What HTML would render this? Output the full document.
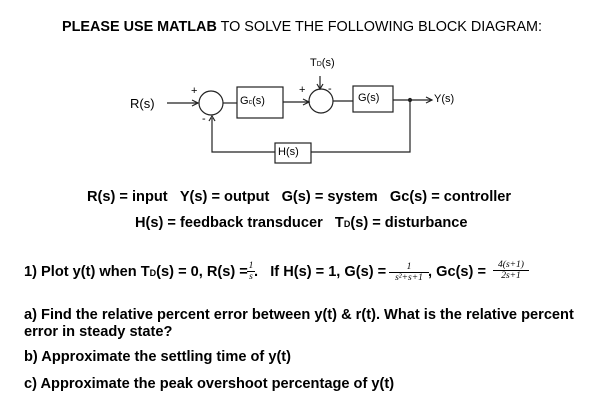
<!DOCTYPE html>
<html><head><style>
body{margin:0;width:602px;height:418px;background:#fff;position:relative;overflow:hidden;font-family:"Liberation Sans",Arial,sans-serif;color:#000}
.t{position:absolute;white-space:nowrap;font-weight:bold;font-size:14.6px;line-height:16px}
.f{position:absolute;font-family:"Liberation Serif",serif;font-style:italic;font-size:9.5px;text-align:center;line-height:10px}
.hw{font-family:"Liberation Sans",sans-serif;font-size:11px;position:absolute;white-space:nowrap}
</style></head><body>
<div class="t" style="left:62px;top:19px;font-size:14.4px;font-weight:normal"><b>PLEASE USE MATLAB</b> TO SOLVE THE FOLLOWING BLOCK DIAGRAM:</div>

<svg width="602" height="418" style="position:absolute;left:0;top:0" fill="none" stroke="#222" stroke-width="1.2">
<line x1="167" y1="103" x2="198" y2="103"/><polyline points="192,100 198,103 192,106"/>
<circle cx="211" cy="103" r="12"/>
<line x1="223" y1="103" x2="237" y2="103"/>
<rect x="237" y="87" width="46" height="31"/>
<line x1="283" y1="102" x2="309" y2="102"/><polyline points="303,99 309,102 303,105"/>
<circle cx="321" cy="101" r="12"/>
<line x1="320" y1="76" x2="320" y2="89"/><polyline points="317,84 320,89 323,84"/>
<line x1="333" y1="101" x2="353" y2="101"/>
<rect x="353" y="86" width="40" height="26"/>
<line x1="393" y1="100" x2="432" y2="100"/><polyline points="426,97 432,100 426,103"/>
<circle cx="410" cy="100" r="1.5" fill="#222"/>
<polyline points="410,100 410,152 311,152"/>
<rect x="275" y="143" width="36" height="20"/>
<polyline points="275,152 212,152 212,118"/><polyline points="209,121 212,116 215,121"/>
</svg>
<div class="hw" style="left:130px;top:96px;font-size:13px">R(s)</div>
<div class="hw" style="left:191px;top:85px">+</div>
<div class="hw" style="left:202px;top:113px">-</div>
<div class="hw" style="left:240px;top:95px">G<span style="font-size:7px">c</span>(s)</div>
<div class="hw" style="left:299px;top:84px">+</div>
<div class="hw" style="left:328px;top:83px">-</div>
<div class="hw" style="left:310px;top:57px">T<span style="font-size:7px">D</span>(s)</div>
<div class="hw" style="left:358px;top:92px">G(s)</div>
<div class="hw" style="left:434px;top:93px">Y(s)</div>
<div class="hw" style="left:278px;top:146px">H(s)</div>

<div class="t" style="left:87px;top:189px">R(s) = input &nbsp;&nbsp;Y(s) = output &nbsp;&nbsp;G(s) = system &nbsp;&nbsp;Gc(s) = controller</div>
<div class="t" style="left:135px;top:215px">H(s) = feedback transducer &nbsp;&nbsp;T<span style="font-size:9px">D</span>(s) = disturbance</div>

<div class="t" style="left:24px;top:264px">1) Plot y(t) when T<span style="font-size:9px">D</span>(s) = 0, R(s) =</div>
<div class="f" style="left:247px;top:261px;width:8px"><span style="border-bottom:1px solid #000;display:block">1</span>s</div>
<div class="t" style="left:254px;top:264px">. &nbsp;&nbsp;If H(s) = 1, G(s) =</div>
<div class="f" style="left:389px;top:262px;width:40px"><span style="border-bottom:1px solid #000;display:block">1</span>s²+s+1</div>
<div class="t" style="left:428px;top:264px">, Gc(s) =</div>
<div class="f" style="left:493px;top:260px;width:36px"><span style="border-bottom:1px solid #000;display:block">4(s+1)</span>2s+1</div>

<div class="t" style="left:24px;top:307px">a) Find the relative percent error between y(t) &amp; r(t). What is the relative percent</div>
<div class="t" style="left:24px;top:324px">error in steady state?</div>
<div class="t" style="left:24px;top:349px">b) Approximate the settling time of y(t)</div>
<div class="t" style="left:24px;top:376px">c) Approximate the peak overshoot percentage of y(t)</div>
</body></html>
